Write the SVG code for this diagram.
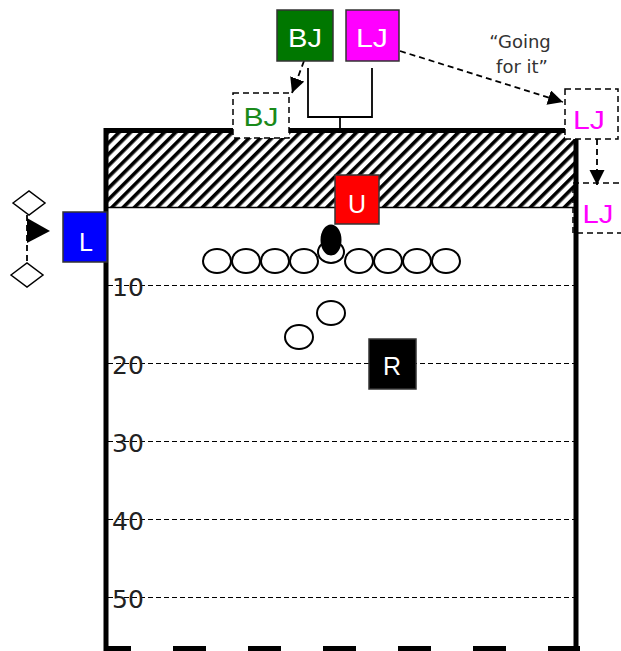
<svg xmlns="http://www.w3.org/2000/svg" width="621" height="651" viewBox="0 0 621 651">
<defs>
  <pattern id="hatch" width="8" height="8" patternUnits="userSpaceOnUse" patternTransform="rotate(45)">
    <rect x="0" y="0" width="3.6" height="8" fill="#000"/>
  </pattern>
  <marker id="arrow" markerUnits="userSpaceOnUse" markerWidth="16" markerHeight="16" refX="15" refY="7.5" orient="auto">
    <path d="M0,0 L15,7.5 L0,15 z" fill="#000"/>
  </marker>
</defs>
<style>
  .box { stroke: #333; stroke-width: 1.5; }
  .dbox { fill: #fff; stroke: #000; stroke-width: 1.5; stroke-dasharray: 6 4; }
  .lbl { font-family: "Liberation Sans", Arial, sans-serif; font-size: 25px; text-anchor: middle; }
  .num { font-family: "DejaVu Sans", Verdana, sans-serif; font-size: 25px; fill: #222; }
  .yard { stroke: #000; stroke-width: 1; stroke-dasharray: 5 3; fill: none; }
  .conn { stroke: #000; stroke-width: 1.8; fill: none; }
  .dconn { stroke: #000; stroke-width: 1.8; fill: none; stroke-dasharray: 6 4; }
  .player { fill: #fff; stroke: #000; stroke-width: 2; }
  .note { font-family: "DejaVu Sans", Verdana, sans-serif; font-size: 18px; fill: #333; text-anchor: middle; }
</style>

<g id="lj-box2">
  <rect class="dbox" x="573" y="183" width="50" height="50"/>
  <text class="lbl" x="598" y="223" fill="#FF00FF" textLength="31" lengthAdjust="spacingAndGlyphs">LJ</text>
</g>

<g id="field">
  <rect x="108" y="133" width="466" height="74" fill="url(#hatch)"/>
  <line x1="108" y1="207.5" x2="574" y2="207.5" stroke="#000" stroke-width="1.5"/>
  <g class="yard">
    <line x1="108" y1="285.5" x2="574" y2="285.5"/>
    <line x1="108" y1="363.5" x2="574" y2="363.5"/>
    <line x1="108" y1="441.5" x2="574" y2="441.5"/>
    <line x1="108" y1="519.5" x2="574" y2="519.5"/>
    <line x1="108" y1="597.5" x2="574" y2="597.5"/>
  </g>
  <text class="num" x="112" y="296">10</text>
  <text class="num" x="112" y="374">20</text>
  <text class="num" x="112" y="452">30</text>
  <text class="num" x="112" y="530">40</text>
  <text class="num" x="112" y="608">50</text>
  <line x1="104" y1="130.5" x2="578.5" y2="130.5" stroke="#000" stroke-width="5"/>
  <line x1="106" y1="128" x2="106" y2="651" stroke="#000" stroke-width="5"/>
  <line x1="576" y1="128" x2="576" y2="651" stroke="#000" stroke-width="5"/>
  <line x1="104" y1="648.5" x2="580" y2="648.5" stroke="#000" stroke-width="5" stroke-dasharray="33 42" stroke-dashoffset="6"/>
</g>

<g id="connectors">
  <polyline class="conn" points="308,68 308,117 372,117 372,68"/>
  <line class="conn" x1="340" y1="117" x2="340" y2="128"/>
  <line class="dconn" x1="304" y1="61" x2="292" y2="93" marker-end="url(#arrow)"/>
  <line class="dconn" x1="400" y1="51" x2="563" y2="102" marker-end="url(#arrow)"/>
  <line class="dconn" x1="597" y1="139" x2="597" y2="185" marker-end="url(#arrow)"/>
  <line class="dconn" x1="27" y1="215" x2="27" y2="263"/>
  <polygon points="27,218 50,231 27,243" fill="#000"/>
</g>

<g id="bj-dashed">
  <rect class="dbox" x="233" y="93" width="56" height="45"/>
  <text class="lbl" x="261" y="126" fill="#1A8A1A" textLength="35" lengthAdjust="spacingAndGlyphs">BJ</text>
</g>

<g id="lj-box1">
  <rect class="dbox" x="565" y="89" width="53" height="50"/>
  <text class="lbl" x="589" y="129" fill="#FF00FF" textLength="32" lengthAdjust="spacingAndGlyphs">LJ</text>
</g>

<g id="bj">
  <rect class="box" x="277" y="10" width="56" height="51" fill="#007700"/>
  <text class="lbl" x="305" y="47" fill="#fff" textLength="34" lengthAdjust="spacingAndGlyphs">BJ</text>
</g>

<g id="lj">
  <rect class="box" x="346" y="10" width="53" height="51" fill="#FF00FF"/>
  <text class="lbl" x="372" y="47" fill="#fff" textLength="32" lengthAdjust="spacingAndGlyphs">LJ</text>
</g>

<g id="note">
  <text class="note" x="520" y="48">“Going</text>
  <text class="note" x="522" y="73">for it”</text>
</g>

<g id="diamond-top">
  <polygon points="13,203 29,191 45,203 29,215" fill="#fff" stroke="#000" stroke-width="1.5"/>
</g>
<g id="diamond-bottom">
  <polygon points="11,275 27,263 43,275 27,287" fill="#fff" stroke="#000" stroke-width="1.5"/>
</g>

<g id="l">
  <rect class="box" x="63" y="212" width="44" height="50" fill="#0000FF"/>
  <text class="lbl" x="86" y="251" fill="#fff">L</text>
</g>

<g id="u">
  <rect class="box" x="335" y="175" width="44" height="49" fill="#FF0000"/>
  <text class="lbl" x="357" y="213" fill="#fff">U</text>
</g>

<g id="line">
  <ellipse class="player" cx="217" cy="261" rx="14" ry="12"/>
  <ellipse class="player" cx="246" cy="261" rx="14" ry="12"/>
  <ellipse class="player" cx="275" cy="261" rx="14" ry="12"/>
  <ellipse class="player" cx="304" cy="261" rx="14" ry="12"/>
  <ellipse class="player" cx="331" cy="252" rx="13" ry="11"/>
  <ellipse class="player" cx="359" cy="261" rx="14" ry="12"/>
  <ellipse class="player" cx="388" cy="261" rx="14" ry="12"/>
  <ellipse class="player" cx="417" cy="261" rx="14" ry="12"/>
  <ellipse class="player" cx="446" cy="261" rx="14" ry="12"/>
</g>

<g id="ball">
  <ellipse cx="331" cy="240" rx="10.5" ry="15.5" fill="#000"/>
</g>

<g id="backs">
  <ellipse class="player" cx="331" cy="313" rx="14" ry="12"/>
  <ellipse class="player" cx="299" cy="337" rx="14" ry="12"/>
</g>

<g id="r">
  <rect class="box" x="369" y="339" width="47" height="50" fill="#000"/>
  <text class="lbl" x="392" y="375" fill="#fff">R</text>
</g>
</svg>
